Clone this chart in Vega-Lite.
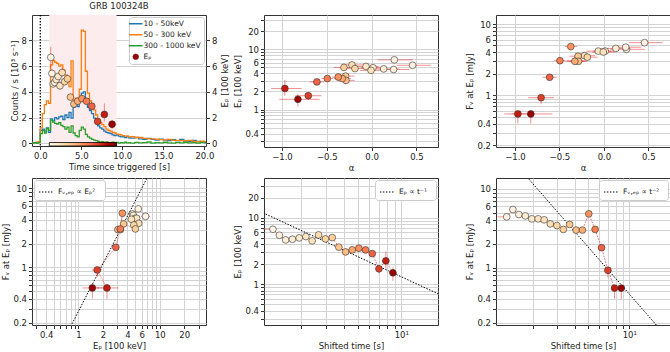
{
"$schema": "https://vega.github.io/schema/vega-lite/v6.json",
"padding": {"left": 1, "top": 1, "right": 1, "bottom": 0},
"datasets": {
"lc": [
{"t":-1.0,"b":0.02,"o":0.06,"g":0.03},{"t":-0.75,"b":0.05,"o":0.04,"g":0.06},{"t":-0.5,"b":0.03,"o":0.08,"g":0.02},{"t":-0.25,"b":0.08,"o":0.12,"g":0.05},
{"t":0.0,"b":1.0,"o":1.2,"g":0.75},{"t":0.25,"b":1.1,"o":2.3,"g":1.0},{"t":0.5,"b":0.95,"o":3.0,"g":0.8},{"t":0.75,"b":1.2,"o":3.3,"g":1.15},
{"t":1.0,"b":0.85,"o":3.1,"g":1.0},{"t":1.25,"b":1.9,"o":6.1,"g":1.8},{"t":1.5,"b":1.75,"o":6.45,"g":1.65},{"t":1.75,"b":2.0,"o":6.3,"g":1.55},
{"t":2.0,"b":1.9,"o":6.2,"g":1.5},{"t":2.25,"b":2.05,"o":6.0,"g":1.6},{"t":2.5,"b":2.1,"o":6.1,"g":1.4},{"t":2.75,"b":1.85,"o":5.7,"g":1.3},
{"t":3.0,"b":2.2,"o":5.3,"g":1.1},{"t":3.25,"b":2.0,"o":4.8,"g":1.25},{"t":3.5,"b":2.4,"o":4.4,"g":0.85},{"t":3.75,"b":1.95,"o":6.4,"g":1.35},
{"t":4.0,"b":2.8,"o":3.0,"g":0.8},{"t":4.25,"b":3.1,"o":3.5,"g":0.6},{"t":4.5,"b":2.85,"o":3.3,"g":0.5},{"t":4.75,"b":3.4,"o":4.2,"g":1.0},
{"t":5.0,"b":3.9,"o":8.8,"g":1.25},{"t":5.25,"b":4.0,"o":8.7,"g":1.1},{"t":5.5,"b":3.2,"o":5.6,"g":0.7},{"t":5.75,"b":2.8,"o":3.9,"g":0.5},
{"t":6.0,"b":2.55,"o":3.3,"g":0.4},{"t":6.25,"b":2.3,"o":2.9,"g":0.3},{"t":6.5,"b":1.95,"o":2.6,"g":0.25},{"t":6.75,"b":1.65,"o":2.2,"g":0.2},
{"t":7.0,"b":1.35,"o":1.8,"g":0.15},{"t":7.25,"b":1.2,"o":1.6,"g":0.08},{"t":7.5,"b":1.1,"o":1.45,"g":0.12},{"t":7.75,"b":0.95,"o":1.3,"g":0.05},
{"t":8.0,"b":0.85,"o":1.1,"g":0.1},{"t":8.25,"b":0.8,"o":1.0,"g":0.06},{"t":8.5,"b":0.75,"o":0.95,"g":0.03},{"t":8.75,"b":0.65,"o":0.85,"g":0.09},
{"t":9.0,"b":0.6,"o":0.8,"g":0.04},{"t":9.25,"b":0.65,"o":0.72,"g":0.07},{"t":9.5,"b":0.55,"o":0.7,"g":0.02},{"t":9.75,"b":0.5,"o":0.65,"g":0.06},
{"t":10.0,"b":0.52,"o":0.6,"g":0.04},{"t":10.25,"b":0.45,"o":0.55,"g":0.08},{"t":10.5,"b":0.5,"o":0.58,"g":0.03},{"t":10.75,"b":0.42,"o":0.5,"g":0.06},
{"t":11.0,"b":0.4,"o":0.52,"g":0.02},{"t":11.5,"b":0.45,"o":0.45,"g":0.07},{"t":12.0,"b":0.35,"o":0.45,"g":0.03},{"t":12.5,"b":0.3,"o":0.38,"g":0.06},
{"t":13.0,"b":0.38,"o":0.35,"g":0.1},{"t":13.5,"b":0.3,"o":0.35,"g":0.02},{"t":14.0,"b":0.25,"o":0.32,"g":0.06},{"t":14.5,"b":0.32,"o":0.28,"g":0.03},
{"t":15.0,"b":0.25,"o":0.26,"g":0.08},{"t":15.5,"b":0.2,"o":0.3,"g":0.04},{"t":16.0,"b":0.28,"o":0.22,"g":0.02},{"t":16.5,"b":0.2,"o":0.22,"g":0.07},
{"t":17.0,"b":0.3,"o":0.2,"g":0.03},{"t":17.5,"b":0.18,"o":0.18,"g":0.08},{"t":18.0,"b":0.15,"o":0.22,"g":0.04},{"t":18.5,"b":0.22,"o":0.15,"g":0.06},
{"t":19.0,"b":0.15,"o":0.12,"g":0.02},{"t":19.5,"b":0.12,"o":0.16,"g":0.07},{"t":20.0,"b":0.1,"o":0.1,"g":0.03},{"t":20.2,"b":0.1,"o":0.1,"g":0.03}
],
"pts": [
{"i":1,"t":1.28,"tl":1.1,"th":1.35,"ep":6.68,"el":5.9,"eh":7.5,"a":0.253,"al":0.07,"ah":0.46,"f":4.42,"fl":4.2,"fh":4.65},
{"i":2,"t":1.42,"tl":1.35,"th":1.5,"ep":5.43,"el":5.1,"eh":5.8,"a":0.457,"al":0.28,"ah":0.66,"f":5.48,"fl":5.2,"fh":5.75},
{"i":3,"t":1.57,"tl":1.5,"th":1.66,"ep":4.62,"el":4.35,"eh":4.9,"a":0.245,"al":0.09,"ah":0.42,"f":4.73,"fl":4.5,"fh":4.95},
{"i":4,"t":1.75,"tl":1.66,"th":1.85,"ep":4.73,"el":4.45,"eh":5.0,"a":0.134,"al":-0.03,"ah":0.3,"f":4.55,"fl":4.35,"fh":4.75},
{"i":5,"t":1.95,"tl":1.85,"th":2.06,"ep":4.95,"el":4.65,"eh":5.25,"a":0.015,"al":-0.12,"ah":0.15,"f":4.17,"fl":3.95,"fh":4.4},
{"i":6,"t":2.17,"tl":2.06,"th":2.28,"ep":5.19,"el":4.85,"eh":5.5,"a":-0.063,"al":-0.2,"ah":0.08,"f":4.17,"fl":3.95,"fh":4.4},
{"i":7,"t":2.4,"tl":2.28,"th":2.53,"ep":4.47,"el":4.15,"eh":4.8,"a":-0.007,"al":-0.13,"ah":0.12,"f":4.05,"fl":3.85,"fh":4.25},
{"i":8,"t":2.66,"tl":2.53,"th":2.8,"ep":5.5,"el":5.15,"eh":5.9,"a":-0.219,"al":-0.33,"ah":-0.1,"f":3.6,"fl":3.4,"fh":3.8},
{"i":9,"t":2.97,"tl":2.8,"th":3.13,"ep":4.79,"el":4.5,"eh":5.1,"a":-0.186,"al":-0.3,"ah":-0.07,"f":3.43,"fl":3.25,"fh":3.6},
{"i":10,"t":3.31,"tl":3.13,"th":3.49,"ep":5.01,"el":4.7,"eh":5.35,"a":-0.309,"al":-0.42,"ah":-0.2,"f":3.06,"fl":2.9,"fh":3.25},
{"i":11,"t":3.68,"tl":3.49,"th":3.88,"ep":3.59,"el":3.4,"eh":3.8,"a":-0.29,"al":-0.39,"ah":-0.19,"f":3.54,"fl":3.35,"fh":3.75},
{"i":12,"t":4.1,"tl":3.88,"th":4.33,"ep":3.05,"el":2.9,"eh":3.2,"a":-0.286,"al":-0.38,"ah":-0.19,"f":3.0,"fl":2.85,"fh":3.15},
{"i":13,"t":4.56,"tl":4.33,"th":4.82,"ep":3.27,"el":3.1,"eh":3.45,"a":-0.327,"al":-0.42,"ah":-0.23,"f":3.0,"fl":2.85,"fh":3.15},
{"i":14,"t":5.07,"tl":4.82,"th":5.35,"ep":3.47,"el":3.3,"eh":3.65,"a":-0.372,"al":-0.44,"ah":-0.3,"f":4.83,"fl":4.55,"fh":5.1},
{"i":15,"t":5.64,"tl":5.35,"th":5.95,"ep":3.27,"el":3.1,"eh":3.45,"a":-0.494,"al":-0.56,"ah":-0.43,"f":3.06,"fl":2.9,"fh":3.25},
{"i":16,"t":6.28,"tl":5.95,"th":6.65,"ep":2.88,"el":2.65,"eh":3.1,"a":-0.61,"al":-0.69,"ah":-0.53,"f":1.79,"fl":1.65,"fh":1.95},
{"i":17,"t":6.99,"tl":6.65,"th":7.4,"ep":1.7,"el":1.45,"eh":1.95,"a":-0.706,"al":-0.85,"ah":-0.56,"f":0.925,"fl":0.75,"fh":1.0},
{"i":18,"t":7.81,"tl":7.4,"th":8.25,"ep":2.24,"el":1.7,"eh":3.1,"a":-0.967,"al":-1.12,"ah":-0.78,"f":0.548,"fl":0.4,"fh":0.6},
{"i":19,"t":8.75,"tl":8.25,"th":9.3,"ep":1.48,"el":1.12,"eh":1.8,"a":-0.822,"al":-1.03,"ah":-0.58,"f":0.548,"fl":0.4,"fh":0.6}
],
"r4": [{"x":0.8,"y":0.178},{"x":7.1,"y":14.01}],
"r5": [{"x":1.0,"y":12.9},{"x":20,"y":0.645}],
"r6": [{"x":1.8,"y":14.2},{"x":16,"y":0.18}],
"one": [{}]
},
"columns": 3,
"spacing": {"row": 31, "column": 58},
"bounds": "flush",
"resolve": {"scale": {"color": "independent", "fill": "independent"}, "legend": {"color": "independent", "fill": "independent"}},
"concat": [
{
"width": 174, "height": 131,
"title": {"text": "GRB 100324B", "fontSize": 8.5, "fontWeight": "normal", "font": "DejaVu Sans", "offset": 4, "color": "#222"},
"layer": [
  {"data": {"name": "one"}, "mark": {"type": "rect", "color": "#fdeced", "opacity": 1}, "encoding": {"x": {"datum": 1.1, "type": "quantitative"}, "x2": {"datum": 9.3}}},
  {"data": {"name": "one"}, "mark": {"type": "rule", "color": "black", "strokeDash": [1.5, 1.5], "strokeWidth": 1.2}, "encoding": {"x": {"datum": 0, "type": "quantitative"}}},
  {"data": {"name": "lc"}, "transform": [{"fold": ["b", "o", "g"], "as": ["band", "cps"]}],
   "mark": {"type": "line", "interpolate": "step-after", "strokeWidth": 1.3},
   "encoding": {
    "x": {"field": "t", "type": "quantitative", "title": "Time since triggered [s]", "scale": {"domain": [-1.01, 20.2], "nice": false, "zero": false}, "axis": {"values": [0, 2.5, 5, 7.5, 10, 12.5, 15, 17.5, 20], "format": ".1f", "grid": false, "labelOverlap": false}},
    "y": {"field": "cps", "type": "quantitative", "title": "Counts / s [10³ s⁻¹]", "scale": {"domain": [-0.21, 9.97], "nice": false, "zero": false}, "axis": {"orient": "left", "values": [0, 2, 4, 6, 8], "grid": false, "labelOverlap": false}},
    "color": {"field": "band", "type": "nominal", "scale": {"domain": ["b", "o", "g", "E"], "range": ["#1f77b4", "#ff7f0e", "#2ca02c", "#8b0a0a"]},
     "legend": {"title": null, "orient": "top-right", "offset": 2, "labelFontSize": 7.5, "rowPadding": 2, "padding": 3, "symbolSize": 180,
      "labelExpr": "datum.label == 'b' ? '10 - 50keV' : datum.label == 'o' ? '50 - 300 keV' : datum.label == 'g' ? '300 - 1000 keV' : 'Eₚ'",
      "encode": {"symbols": {"update": {
        "shape": {"signal": "datum.value == 'E' ? 'circle' : 'stroke'"},
        "size": {"signal": "datum.value == 'E' ? 32 : 180"},
        "fill": {"signal": "datum.value == 'E' ? '#8b0a0a' : 'transparent'"},
        "stroke": {"signal": "datum.value == 'b' ? '#1f77b4' : datum.value == 'o' ? '#ff7f0e' : datum.value == 'g' ? '#2ca02c' : '#333'"},
        "strokeWidth": {"signal": "datum.value == 'E' ? 0.6 : 1.5"}}}}}},
    "order": {"field": "t", "type": "quantitative"}
   }},
  {"data": {"name": "one"}, "mark": {"type": "rect", "stroke": "black", "strokeWidth": 0.8, "fill": {"gradient": "linear", "x1": 0, "y1": 0, "x2": 1, "y2": 0, "stops": [{"offset": 0, "color": "#fff7ec"}, {"offset": 0.125, "color": "#fee8c8"}, {"offset": 0.25, "color": "#fdd49e"}, {"offset": 0.375, "color": "#fdbb84"}, {"offset": 0.5, "color": "#fc8d59"}, {"offset": 0.625, "color": "#ef6548"}, {"offset": 0.75, "color": "#d7301f"}, {"offset": 0.875, "color": "#b30000"}, {"offset": 1, "color": "#7f0000"}]}},
   "encoding": {"x": {"datum": 1.1, "type": "quantitative"}, "x2": {"datum": 9.3}, "y": {"datum": 0.06, "type": "quantitative", "scale": {"domain": [-0.21, 9.97], "nice": false, "zero": false}, "axis": null}, "y2": {"datum": -0.21}}},
  {"data": {"name": "pts"}, "mark": {"type": "rule", "color": "#f02020", "opacity": 0.5, "strokeWidth": 1},
   "encoding": {"x": {"field": "t", "type": "quantitative"}, "y": {"field": "el", "type": "quantitative", "scale": {"domain": [-0.21, 9.97], "nice": false, "zero": false}, "axis": null}, "y2": {"field": "eh"}}},
  {"data": {"name": "pts"}, "mark": {"type": "rule", "color": "#f02020", "opacity": 0.5, "strokeWidth": 1},
   "encoding": {"x": {"field": "tl", "type": "quantitative"}, "x2": {"field": "th"}, "y": {"field": "ep", "type": "quantitative", "scale": {"domain": [-0.21, 9.97], "nice": false, "zero": false}, "axis": null}}},
  {"data": {"name": "pts"}, "mark": {"type": "circle", "size": 46, "stroke": "#333", "strokeWidth": 0.6, "opacity": 1},
   "encoding": {"x": {"field": "t", "type": "quantitative"},
    "y": {"field": "ep", "type": "quantitative", "title": "Eₚ [100 keV]", "scale": {"domain": [-0.21, 9.97], "nice": false, "zero": false}, "axis": {"orient": "right", "values": [0, 2, 4, 6, 8], "grid": true, "gridColor": "#d3d3d3", "labelOverlap": false, "titleAngle": 270, "titleBaseline": "top", "titlePadding": 4}},
    "fill": {"field": "t", "type": "quantitative", "legend": null, "scale": {"domain": [1.1, 2.125, 3.15, 4.175, 5.2, 6.225, 7.25, 8.275, 9.3], "range": ["#fff7ec", "#fee8c8", "#fdd49e", "#fdbb84", "#fc8d59", "#ef6548", "#d7301f", "#b30000", "#7f0000"]}}}}
],
"resolve": {"scale": {"y": "independent"}, "axis": {"y": "independent"}}
},
{
"width": 174, "height": 132,
"data": {"name": "pts"},
"layer": [
 {"mark": {"type": "rule", "color": "#f02020", "opacity": 0.5, "strokeWidth": 1},
  "encoding": {"x": {"field": "al", "type": "quantitative", "title": "α", "scale": {"domain": [-1.2, 0.74], "nice": false, "zero": false}, "axis": {"values": [-1, -0.5, 0, 0.5], "format": ".1f", "grid": true}}, "x2": {"field": "ah"},
   "y": {"field": "ep", "type": "quantitative", "title": "Eₚ [100 keV]", "scale": {"type": "log", "domain": [0.24, 37], "nice": false}, "axis": {"values": [0.3, 0.4, 0.5, 0.6, 0.7, 0.8, 0.9, 1, 2, 3, 4, 5, 6, 7, 8, 9, 10, 20, 30], "labelExpr": "indexof([0.4, 1, 2, 4, 6, 10, 20], datum.value) >= 0 ? format(datum.value, '~g') : ''", "grid": true, "labelOverlap": false}}}},
 {"mark": {"type": "rule", "color": "#f02020", "opacity": 0.5, "strokeWidth": 1},
  "encoding": {"x": {"field": "a", "type": "quantitative"}, "y": {"field": "el", "type": "quantitative"}, "y2": {"field": "eh"}}},
 {"mark": {"type": "circle", "size": 46, "stroke": "#333", "strokeWidth": 0.6, "opacity": 1},
  "encoding": {"x": {"field": "a", "type": "quantitative"}, "y": {"field": "ep", "type": "quantitative"},
   "fill": {"field": "t", "type": "quantitative", "legend": null, "scale": {"domain": [1.1, 2.125, 3.15, 4.175, 5.2, 6.225, 7.25, 8.275, 9.3], "range": ["#fff7ec", "#fee8c8", "#fdd49e", "#fdbb84", "#fc8d59", "#ef6548", "#d7301f", "#b30000", "#7f0000"]}}}}
]
},
{
"width": 174, "height": 132,
"data": {"name": "pts"},
"layer": [
 {"mark": {"type": "rule", "color": "#f02020", "opacity": 0.5, "strokeWidth": 1},
  "encoding": {"x": {"field": "al", "type": "quantitative", "title": "α", "scale": {"domain": [-1.213, 0.743], "nice": false, "zero": false}, "axis": {"values": [-1, -0.5, 0, 0.5], "format": ".1f", "grid": true}}, "x2": {"field": "ah"},
   "y": {"field": "f", "type": "quantitative", "title": "Fᵥ  at  Eₚ [mJy]", "scale": {"type": "log", "domain": [0.188, 13.4], "nice": false}, "axis": {"values": [0.2, 0.3, 0.4, 0.5, 0.6, 0.7, 0.8, 0.9, 1, 2, 3, 4, 5, 6, 7, 8, 9, 10], "labelExpr": "indexof([0.2, 0.4, 1, 2, 4, 6, 10], datum.value) >= 0 ? format(datum.value, '~g') : ''", "grid": true, "labelOverlap": false}}}},
 {"mark": {"type": "rule", "color": "#f02020", "opacity": 0.5, "strokeWidth": 1},
  "encoding": {"x": {"field": "a", "type": "quantitative"}, "y": {"field": "fl", "type": "quantitative"}, "y2": {"field": "fh"}}},
 {"mark": {"type": "circle", "size": 46, "stroke": "#333", "strokeWidth": 0.6, "opacity": 1},
  "encoding": {"x": {"field": "a", "type": "quantitative"}, "y": {"field": "f", "type": "quantitative"},
   "fill": {"field": "t", "type": "quantitative", "legend": null, "scale": {"domain": [1.1, 2.125, 3.15, 4.175, 5.2, 6.225, 7.25, 8.275, 9.3], "range": ["#fff7ec", "#fee8c8", "#fdd49e", "#fdbb84", "#fc8d59", "#ef6548", "#d7301f", "#b30000", "#7f0000"]}}}}
]
},
{
"width": 174, "height": 147,
"layer": [
 {"data": {"name": "r4"}, "mark": {"type": "line", "color": "black", "strokeDash": [1.5, 1.5], "strokeWidth": 1, "clip": true},
  "encoding": {"x": {"field": "x", "type": "quantitative", "title": "Eₚ [100 keV]", "scale": {"type": "log", "domain": [0.268, 37], "nice": false}, "axis": {"values": [0.3, 0.4, 0.5, 0.6, 0.7, 0.8, 0.9, 1, 2, 3, 4, 5, 6, 7, 8, 9, 10, 20, 30], "labelExpr": "indexof([0.4, 1, 2, 4, 6, 10, 20], datum.value) >= 0 ? format(datum.value, '~g') : ''", "grid": true, "labelOverlap": false}},
   "y": {"field": "y", "type": "quantitative", "title": "Fᵥ  at  Eₚ [mJy]", "scale": {"type": "log", "domain": [0.186, 13.5], "nice": false}, "axis": {"values": [0.2, 0.3, 0.4, 0.5, 0.6, 0.7, 0.8, 0.9, 1, 2, 3, 4, 5, 6, 7, 8, 9, 10], "labelExpr": "indexof([0.2, 0.4, 1, 2, 4, 6, 10], datum.value) >= 0 ? format(datum.value, '~g') : ''", "grid": true, "labelOverlap": false}},
   "color": {"datum": "Fᵥ,ₑₚ  ∝  Eₚ²", "type": "nominal", "scale": {"range": ["black"]}, "legend": {"title": null, "orient": "top-left", "offset": 2, "symbolType": "stroke", "symbolDash": [1.5, 1.5], "symbolStrokeWidth": 1.1, "symbolSize": 200}}}},
 {"data": {"name": "pts"}, "layer": [
  {"mark": {"type": "line", "color": "#f02020", "opacity": 0.35, "strokeWidth": 1},
   "encoding": {"x": {"field": "ep", "type": "quantitative"}, "y": {"field": "f", "type": "quantitative"}, "order": {"field": "i", "type": "quantitative"}}},
  {"mark": {"type": "rule", "color": "#f02020", "opacity": 0.5, "strokeWidth": 1},
   "encoding": {"x": {"field": "el", "type": "quantitative"}, "x2": {"field": "eh"}, "y": {"field": "f", "type": "quantitative"}}},
  {"mark": {"type": "rule", "color": "#f02020", "opacity": 0.5, "strokeWidth": 1},
   "encoding": {"x": {"field": "ep", "type": "quantitative"}, "y": {"field": "fl", "type": "quantitative"}, "y2": {"field": "fh"}}},
  {"mark": {"type": "circle", "size": 46, "stroke": "#333", "strokeWidth": 0.6, "opacity": 1},
   "encoding": {"x": {"field": "ep", "type": "quantitative"}, "y": {"field": "f", "type": "quantitative"},
    "fill": {"field": "t", "type": "quantitative", "legend": null, "scale": {"domain": [1.1, 2.125, 3.15, 4.175, 5.2, 6.225, 7.25, 8.275, 9.3], "range": ["#fff7ec", "#fee8c8", "#fdd49e", "#fdbb84", "#fc8d59", "#ef6548", "#d7301f", "#b30000", "#7f0000"]}}}}
 ]}
]
},
{
"width": 174, "height": 147,
"layer": [
 {"data": {"name": "r5"}, "mark": {"type": "line", "color": "black", "strokeDash": [1.5, 1.5], "strokeWidth": 1, "clip": true},
  "encoding": {"x": {"field": "x", "type": "quantitative", "title": "Shifted time [s]", "scale": {"type": "log", "domain": [1.11, 18], "nice": false}, "axis": {"values": [2, 3, 4, 5, 6, 7, 8, 9, 10], "labelExpr": "datum.value == 10 ? '10¹' : ''", "grid": true, "labelOverlap": false}},
   "y": {"field": "y", "type": "quantitative", "title": "Eₚ [100 keV]", "scale": {"type": "log", "domain": [0.243, 39.4], "nice": false}, "axis": {"values": [0.3, 0.4, 0.5, 0.6, 0.7, 0.8, 0.9, 1, 2, 3, 4, 5, 6, 7, 8, 9, 10, 20, 30], "labelExpr": "indexof([0.4, 1, 2, 4, 6, 10, 20], datum.value) >= 0 ? format(datum.value, '~g') : ''", "grid": true, "labelOverlap": false}},
   "color": {"datum": "Eₚ  ∝  t⁻¹", "type": "nominal", "scale": {"range": ["black"]}, "legend": {"title": null, "orient": "top-right", "offset": 2, "symbolType": "stroke", "symbolDash": [1.5, 1.5], "symbolStrokeWidth": 1.1, "symbolSize": 200}}}},
 {"data": {"name": "pts"}, "layer": [
  {"mark": {"type": "line", "color": "#f02020", "opacity": 0.7, "strokeWidth": 1, "strokeDash": [1.5, 1.5]},
   "encoding": {"x": {"field": "t", "type": "quantitative"}, "y": {"field": "ep", "type": "quantitative"}, "order": {"field": "i", "type": "quantitative"}}},
  {"mark": {"type": "rule", "color": "#f02020", "opacity": 0.5, "strokeWidth": 1},
   "encoding": {"x": {"field": "tl", "type": "quantitative"}, "x2": {"field": "th"}, "y": {"field": "ep", "type": "quantitative"}}},
  {"mark": {"type": "rule", "color": "#f02020", "opacity": 0.5, "strokeWidth": 1},
   "encoding": {"x": {"field": "t", "type": "quantitative"}, "y": {"field": "el", "type": "quantitative"}, "y2": {"field": "eh"}}},
  {"mark": {"type": "circle", "size": 46, "stroke": "#333", "strokeWidth": 0.6, "opacity": 1},
   "encoding": {"x": {"field": "t", "type": "quantitative"}, "y": {"field": "ep", "type": "quantitative"},
    "fill": {"field": "t", "type": "quantitative", "legend": null, "scale": {"domain": [1.1, 2.125, 3.15, 4.175, 5.2, 6.225, 7.25, 8.275, 9.3], "range": ["#fff7ec", "#fee8c8", "#fdd49e", "#fdbb84", "#fc8d59", "#ef6548", "#d7301f", "#b30000", "#7f0000"]}}}}
 ]}
]
},
{
"width": 174, "height": 147,
"layer": [
 {"data": {"name": "r6"}, "mark": {"type": "line", "color": "black", "strokeDash": [1.5, 1.5], "strokeWidth": 1, "clip": true},
  "encoding": {"x": {"field": "x", "type": "quantitative", "title": "Shifted time [s]", "scale": {"type": "log", "domain": [1.07, 19.8], "nice": false}, "axis": {"values": [2, 3, 4, 5, 6, 7, 8, 9, 10], "labelExpr": "datum.value == 10 ? '10¹' : ''", "grid": true, "labelOverlap": false}},
   "y": {"field": "y", "type": "quantitative", "title": "Fᵥ  at  Eₚ [mJy]", "scale": {"type": "log", "domain": [0.186, 13.8], "nice": false}, "axis": {"values": [0.2, 0.3, 0.4, 0.5, 0.6, 0.7, 0.8, 0.9, 1, 2, 3, 4, 5, 6, 7, 8, 9, 10], "labelExpr": "indexof([0.2, 0.4, 1, 2, 4, 6, 10], datum.value) >= 0 ? format(datum.value, '~g') : ''", "grid": true, "labelOverlap": false}},
   "color": {"datum": "Fᵥ,ₑₚ  ∝  t⁻²", "type": "nominal", "scale": {"range": ["black"]}, "legend": {"title": null, "orient": "top-right", "offset": 2, "symbolType": "stroke", "symbolDash": [1.5, 1.5], "symbolStrokeWidth": 1.1, "symbolSize": 200}}}},
 {"data": {"name": "pts"}, "layer": [
  {"mark": {"type": "line", "color": "#f02020", "opacity": 0.7, "strokeWidth": 1, "strokeDash": [1.5, 1.5]},
   "encoding": {"x": {"field": "t", "type": "quantitative"}, "y": {"field": "f", "type": "quantitative"}, "order": {"field": "i", "type": "quantitative"}}},
  {"mark": {"type": "rule", "color": "#f02020", "opacity": 0.5, "strokeWidth": 1},
   "encoding": {"x": {"field": "tl", "type": "quantitative"}, "x2": {"field": "th"}, "y": {"field": "f", "type": "quantitative"}}},
  {"mark": {"type": "rule", "color": "#f02020", "opacity": 0.5, "strokeWidth": 1},
   "encoding": {"x": {"field": "t", "type": "quantitative"}, "y": {"field": "fl", "type": "quantitative"}, "y2": {"field": "fh"}}},
  {"mark": {"type": "circle", "size": 46, "stroke": "#333", "strokeWidth": 0.6, "opacity": 1},
   "encoding": {"x": {"field": "t", "type": "quantitative"}, "y": {"field": "f", "type": "quantitative"},
    "fill": {"field": "t", "type": "quantitative", "legend": null, "scale": {"domain": [1.1, 2.125, 3.15, 4.175, 5.2, 6.225, 7.25, 8.275, 9.3], "range": ["#fff7ec", "#fee8c8", "#fdd49e", "#fdbb84", "#fc8d59", "#ef6548", "#d7301f", "#b30000", "#7f0000"]}}}}
 ]}
]
}
],
"config": {
 "font": "DejaVu Sans",
 "view": {"stroke": "#333", "strokeWidth": 1},
 "axis": {"domain": false, "labelFont": "DejaVu Sans", "labelFontSize": 8.5, "labelColor": "#222", "titleFont": "DejaVu Sans", "titleFontSize": 8.5, "titleFontWeight": "normal", "titleColor": "#222", "tickColor": "#333", "tickSize": 3.5, "labelPadding": 2, "titlePadding": 2, "gridColor": "#d3d3d3", "gridWidth": 1, "labelOverlap": false},
 "legend": {"labelFont": "DejaVu Sans", "labelFontSize": 7.5, "labelColor": "#222", "fillColor": "white", "strokeColor": "#cccccc", "cornerRadius": 3, "padding": 4, "rowPadding": 2, "symbolOffset": 0}
}
}
